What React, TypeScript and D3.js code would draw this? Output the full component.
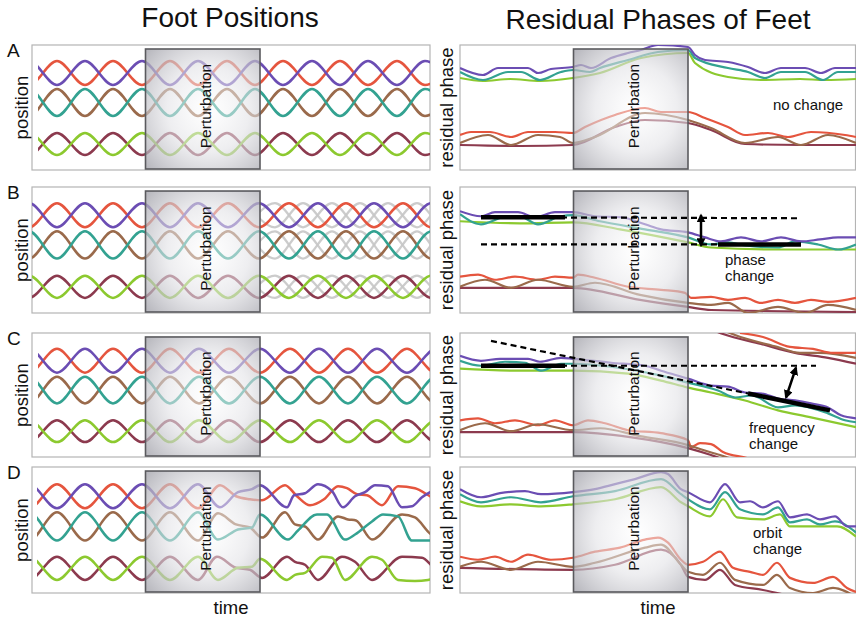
import React from 'react';
import * as d3 from 'd3';

// ---------- labels ----------
const columnTitles = ['Foot Positions', 'Residual Phases of Feet'];
const panelLetters = ['A', 'B', 'C', 'D'];
const leftAxisLabel = 'position';
const rightAxisLabel = 'residual phase';
const xAxisLabel = 'time';
const boxLabel = 'Perturbation';
const annotationLines = [['no change'], ['phase', 'change'], ['frequency', 'change'], ['orbit', 'change']];
const annotationAnchors = [[313, 60], [265, 48], [289, 24], [293, 55]]; // [time, phase]

// ---------- perturbation window (time units) ----------
const perturbationWindow = [113.5, 228];
const perturbationLevels = [1, 121];

// ---------- foot colours ----------
const footNames = ['red', 'purple', 'brown', 'teal', 'maroon', 'green'];
const footHex = ['#e5553e', '#6b4db3', '#9a6a4b', '#33a291', '#8c3a4e', '#8cc92f'];
const legPairs = [['red', 'purple'], ['brown', 'teal'], ['maroon', 'green']];
const pairLevels = [[85, 109], [54, 81], [15, 37]]; // [trough, crest]

// ---------- foot positions: times of alternating crests (even index: first foot of pair crests) ----------
const extremaA = [-31, -3, 25, 53, 81, 110, 138, 166, 195, 223, 251, 280, 308, 336, 365, 393, 421];
const extremaB = [-31, -3, 25, 53, 81, 110, 138, 166, 196, 227, 257, 286, 314, 342, 371, 399, 427];
const extremaC = [-31, -3, 25, 53, 81, 110, 138, 167, 197, 228, 258, 287, 316, 345, 375, 404, 433];
const ghostExtremaB = [215, 243, 271, 300, 328, 356, 385, 413, 441];
const lineStartTimes = [6, 0, 6, 5];

// panel D (orbit change): explicit [time, position]
const dRed = [[-31,108],[-3,84],[25,108],[53,84],[81,108],[110,84],[138,108],[166,84],[188,107],[204,96],[218,93],[230,92],[253,107],[265,96],[278,87],[292,93],[306,106],[315,104],[325,98],[335,97],[350,87],[366,106],[383,104],[398,96],[413,88]];
const dPurple = [[-31,84],[-3,108],[25,84],[53,108],[81,84],[110,108],[138,84],[166,108],[188,85],[206,100],[220,103],[228,107],[255,85],[262,97],[273,99],[286,108],[300,101],[311,85],[323,96],[333,100],[343,107],[356,106],[370,85],[380,86],[390,95],[400,101]];
const dBrown = [[-31,80],[-3,52],[25,80],[53,52],[81,80],[110,52],[138,80],[166,52],[186,79],[204,68],[218,65],[230,55],[253,80],[263,68],[273,66],[286,53],[306,76],[316,73],[324,72],[340,53],[370,78],[383,75],[398,59],[413,52]];
const dTeal = [[-31,52],[-3,80],[25,52],[53,80],[81,52],[110,80],[138,52],[166,80],[186,53],[206,63],[220,65],[228,78],[256,53],[266,62],[285,78],[295,78],[313,53],[323,58],[340,71],[351,78],[366,76],[380,52],[396,52],[413,58]];
const dMaroon = [[-31,36],[-3,13],[25,36],[53,13],[81,36],[110,13],[138,36],[166,13],[185,36],[204,25],[218,23],[230,15],[255,36],[263,31],[273,28],[286,13],[310,36],[323,31],[340,13],[370,36],[390,35],[400,27],[413,15]];
const dGreen = [[-31,13],[-3,36],[25,13],[53,36],[81,13],[110,36],[138,13],[166,36],[186,13],[206,25],[220,26],[228,34],[255,13],[263,18],[273,20],[290,36],[300,35],[313,13],[340,36],[350,33],[366,13],[383,12],[396,13],[413,18]];

// ---------- residual phases: [time, phase] ----------
const phaseAPurple = [[0,102],[23,95],[38,102],[68,102],[78,97],[91,101],[113,103],[121,105],[131,102],[151,112],[168,117],[181,120],[198,125],[228,123],[235,115],[245,110],[268,108],[288,103],[305,97],[321,102],[345,102],[361,97],[375,102],[396,102]];
const phaseATeal = [[0,98],[23,90],[48,98],[61,98],[80,90],[101,98],[113,100],[130,98],[140,102],[168,110],[198,118],[228,120],[235,112],[268,102],[288,98],[305,92],[321,98],[345,98],[363,90],[378,98],[396,98]];
const phaseAGreen = [[0,92],[23,89],[50,91],[80,89],[113,92],[140,97],[181,112],[228,117],[235,107],[268,93],[301,90],[340,91],[365,90],[396,91]];
const phaseARed = [[0,35],[11,38],[30,38],[51,33],[68,38],[95,38],[113,37],[125,43],[155,55],[185,62],[201,58],[228,58],[245,52],[268,43],[285,35],[308,37],[328,33],[351,38],[385,35],[396,33]];
const phaseABrown = [[0,27],[28,35],[51,25],[78,35],[100,33],[113,27],[135,33],[185,57],[228,50],[251,42],[285,27],[318,33],[341,25],[368,35],[396,27]];
const phaseAMaroon = [[0,25],[60,24],[113,25],[155,43],[185,50],[228,47],[251,40],[285,26],[340,25],[396,25]];

const phaseBPurple = [[0,101],[21,96],[35,100],[58,100],[75,95],[95,100],[113,100],[135,96],[161,95],[185,88],[201,83],[228,80],[245,75],[261,71],[281,75],[301,71],[321,75],[341,71],[360,73],[378,75],[396,75]];
const phaseBTeal = [[0,98],[21,88],[45,95],[61,95],[78,88],[101,96],[113,97],[140,91],[185,83],[228,75],[251,68],[268,70],[285,67],[318,65],[335,71],[358,68],[378,63],[396,68]];
const phaseBGreen = [[0,91],[60,89],[113,90],[160,83],[228,70],[251,65],[320,63],[396,63]];
const phaseBRed = [[0,36],[18,38],[35,33],[55,36],[78,33],[95,36],[113,35],[118,38],[135,35],[168,26],[201,23],[225,20],[231,15],[251,16],[268,13],[285,15],[301,10],[318,13],[335,10],[351,13],[368,11],[396,15]];
const phaseBBrown = [[0,26],[25,33],[51,25],[78,33],[113,26],[135,30],[180,18],[228,10],[251,8],[268,10],[288,0],[318,6],[345,0],[368,8],[396,3]];
const phaseBMaroon = [[0,25],[113,25],[180,13],[228,6],[251,3],[396,1]];

const phaseCPurple = [[0,102],[21,97],[40,99],[68,99],[80,96],[101,100],[113,99],[151,95],[185,92],[201,87],[228,79],[251,72],[268,71],[285,65],[302,64],[318,59],[335,57],[351,54],[368,50],[381,42],[396,39]];
const phaseCTeal = [[0,97],[21,92],[45,96],[65,95],[81,87],[101,94],[113,94],[151,91],[201,82],[228,75],[258,67],[275,60],[292,62],[318,50],[335,52],[368,44],[385,37],[396,35]];
const phaseCGreen = [[0,89],[60,87],[113,87],[168,84],[201,77],[228,70],[251,65],[285,57],[318,47],[351,40],[396,30]];
const phaseCRed = [[0,37],[18,39],[35,34],[55,37],[78,32],[95,37],[113,32],[128,37],[145,34],[168,27],[201,24],[228,17],[231,10],[240,14],[251,13],[263,5],[287,-1],[300,-5]];
const phaseCBrown = [[0,27],[25,34],[51,26],[78,33],[113,27],[140,29],[180,21],[228,12],[240,8],[260,2],[280,-5]];
const phaseCMaroon = [[0,25],[113,25],[170,20],[228,9],[251,2],[270,-5]];
const phaseCRedWrapped = [[280,125],[303,121],[330,111],[353,109],[373,105],[396,105]];
const phaseCBrownWrapped = [[265,127],[275,123],[317,111],[340,105],[360,105],[396,100]];
const phaseCMaroonWrapped = [[255,127],[263,124],[301,114],[335,105],[368,100],[396,94]];

const phaseDPurple = [[0,103],[21,95],[40,99],[65,101],[81,98],[113,100],[135,103],[155,108],[175,113],[201,120],[208,118],[221,103],[228,100],[250,90],[265,108],[280,90],[290,91],[303,85],[318,91],[330,75],[347,78],[360,73],[375,76],[387,66],[396,66]];
const phaseDTeal = [[0,98],[21,90],[51,95],[81,90],[113,96],[155,101],[201,113],[221,98],[228,93],[250,83],[265,100],[280,83],[303,78],[318,85],[330,70],[347,73],[360,68],[375,71],[396,60]];
const phaseDGreen = [[0,91],[21,86],[51,88],[81,86],[113,88],[155,93],[201,105],[221,90],[228,86],[250,76],[263,93],[277,75],[303,73],[320,78],[330,66],[360,66],[377,66],[396,56]];
const phaseDRed = [[0,36],[18,33],[35,36],[51,31],[68,38],[91,33],[113,35],[135,41],[160,45],[185,53],[198,55],[208,50],[221,33],[228,28],[243,31],[260,41],[273,25],[290,21],[303,18],[317,30],[330,15],[353,10],[373,16],[387,5],[396,1]];
const phaseDBrown = [[0,26],[21,31],[51,23],[78,31],[113,26],[135,30],[185,45],[201,48],[221,28],[228,21],[243,18],[260,30],[275,13],[303,8],[317,18],[330,5],[353,0],[373,5],[396,-4]];
const phaseDMaroon = [[0,25],[113,23],[155,28],[201,43],[221,28],[228,16],[245,13],[260,23],[275,8],[303,3],[330,-3]];

// ---------- annotation guides (time, phase) ----------
const guideB = { hold: [[21, 95], [105, 95]], dashUpper: [[21, 95], [338, 94]], dashLower: [[21, 68], [258, 68]], newHold: [[258, 68], [341, 68]], arrow: [[241, 97], [241, 67]] };
const guideC = { hold: [[21, 92], [105, 92]], dashUpper: [[21, 92], [356, 92]], dashTrend: [[31, 117], [288, 64]], newHold: [[288, 64], [370, 47]], arrow: [[336, 90], [326, 60]] };

const FONT = '"Liberation Sans", Arial, Helvetica, sans-serif';
const rows = [
  { top: 45, bottom: 170 },
  { top: 187, bottom: 313 },
  { top: 333, bottom: 457 },
  { top: 467, bottom: 593 },
];
const colorOf = (name: string) => footHex[footNames.indexOf(name)];

export default function App() {
  const xLeft = d3.scaleLinear().domain([0, 398]).range([32, 430]);
  const xRight = d3.scaleLinear().domain([0, 396]).range([460, 856]);
  const yOf = (r: number) => d3.scaleLinear().domain([0, 125]).range([rows[r].bottom, rows[r].top]);

  const mkLine = (x: any, y: any) =>
    d3.line<number[]>().x(d => x(d[0])).y(d => y(d[1])).curve(d3.curveMonotoneX);

  const pairCurve = (extrema: number[], pairIdx: number, first: boolean) =>
    extrema.map((t, i) => [t, ((i % 2 === 0) === first) ? pairLevels[pairIdx][1] : pairLevels[pairIdx][0]]);

  const leftExtrema = [extremaA, extremaB, extremaC];
  const dCurves: Record<string, number[][]> = { red: dRed, purple: dPurple, brown: dBrown, teal: dTeal, maroon: dMaroon, green: dGreen };

  const phaseSeries: { name: string; pts: number[][] }[][] = [
    [{ name: 'red', pts: phaseARed }, { name: 'maroon', pts: phaseAMaroon }, { name: 'brown', pts: phaseABrown }, { name: 'green', pts: phaseAGreen }, { name: 'teal', pts: phaseATeal }, { name: 'purple', pts: phaseAPurple }],
    [{ name: 'red', pts: phaseBRed }, { name: 'maroon', pts: phaseBMaroon }, { name: 'brown', pts: phaseBBrown }, { name: 'green', pts: phaseBGreen }, { name: 'teal', pts: phaseBTeal }, { name: 'purple', pts: phaseBPurple }],
    [{ name: 'red', pts: phaseCRed }, { name: 'maroon', pts: phaseCMaroon }, { name: 'brown', pts: phaseCBrown }, { name: 'maroon', pts: phaseCMaroonWrapped }, { name: 'brown', pts: phaseCBrownWrapped }, { name: 'red', pts: phaseCRedWrapped }, { name: 'green', pts: phaseCGreen }, { name: 'teal', pts: phaseCTeal }, { name: 'purple', pts: phaseCPurple }],
    [{ name: 'red', pts: phaseDRed }, { name: 'maroon', pts: phaseDMaroon }, { name: 'brown', pts: phaseDBrown }, { name: 'green', pts: phaseDGreen }, { name: 'teal', pts: phaseDTeal }, { name: 'purple', pts: phaseDPurple }],
  ];

  const box = (x: any, y: any, key: string) => {
    const x0 = x(perturbationWindow[0]), x1 = x(perturbationWindow[1]);
    const y0 = y(perturbationLevels[1]), y1 = y(perturbationLevels[0]);
    return (
      <g key={key}>
        <rect x={x0} y={y0} width={x1 - x0} height={y1 - y0} fill="url(#boxGrad)" stroke="#5a5a5e" strokeWidth={1.6} />
        <text transform={`translate(${(x0 + x1) / 2 + 8},${(y0 + y1) / 2 - 3}) rotate(-90)`} textAnchor="middle"
          fontFamily={FONT} fontSize={15.5} fill="#111">{boxLabel}</text>
      </g>
    );
  };

  const seg = (x: any, y: any, pts: number[][]) => `M${x(pts[0][0])},${y(pts[0][1])}L${x(pts[1][0])},${y(pts[1][1])}`;
  const ghostX0 = xLeft(perturbationWindow[1]);

  return (
    <svg width={856} height={619} style={{ position: 'absolute', left: 0, top: 0, background: '#fff' }}>
      <defs>
        <radialGradient id="boxGrad" cx="0.55" cy="0.5" r="0.72">
          <stop offset="0" stopColor="#ffffff" stopOpacity={0.45} />
          <stop offset="0.5" stopColor="#e2e2e6" stopOpacity={0.6} />
          <stop offset="1" stopColor="#a4a4ac" stopOpacity={0.78} />
        </radialGradient>
        <marker id="arrowHead" viewBox="0 0 10 10" refX="8" refY="5" markerWidth="3.6" markerHeight="3.6" orient="auto-start-reverse">
          <path d="M0,0 L10,5 L0,10 z" fill="#000" />
        </marker>
        {rows.map((r, i) => (
          <clipPath id={`clipL${i}`} key={`cl${i}`}>
            <rect x={xLeft(lineStartTimes[i])} y={r.top} width={430 - xLeft(lineStartTimes[i])} height={r.bottom - r.top} />
          </clipPath>
        ))}
        {rows.map((r, i) => (
          <clipPath id={`clipR${i}`} key={`cr${i}`}>
            <rect x={460} y={r.top} width={396} height={r.bottom - r.top} />
          </clipPath>
        ))}
        <clipPath id="ghostClip">
          <rect x={ghostX0} y={rows[1].top} width={430 - ghostX0} height={rows[1].bottom - rows[1].top} />
        </clipPath>
      </defs>

      {/* titles */}
      <text x={230} y={27} textAnchor="middle" fontFamily={FONT} fontSize={28} fill="#111">{columnTitles[0]}</text>
      <text x={658} y={29} textAnchor="middle" fontFamily={FONT} fontSize={28} fill="#111">{columnTitles[1]}</text>

      {rows.map((r, ri) => {
        const y = yOf(ri);
        const line = mkLine(xLeft, y);
        const rline = mkLine(xRight, y);
        const midY = (r.top + r.bottom) / 2;
        return (
          <g key={`row${ri}`}>
            <text x={7} y={r.top + 12} fontFamily={FONT} fontSize={19} fill="#111">{panelLetters[ri]}</text>
            <text transform={`translate(28,${midY}) rotate(-90)`} textAnchor="middle" fontFamily={FONT} fontSize={18.5} fill="#111">{leftAxisLabel}</text>
            <text transform={`translate(453,${midY}) rotate(-90)`} textAnchor="middle" fontFamily={FONT} fontSize={18.5} fill="#111">{rightAxisLabel}</text>

            {/* left frame */}
            <rect x={32} y={r.top} width={398} height={r.bottom - r.top} fill="#fff" stroke="#b4b4b4" strokeWidth={1.2} />
            {ri === 1 && (
              <g clipPath="url(#ghostClip)">
                {legPairs.map((pair, pi) => [true, false].map(first => (
                  <path key={`gh${pi}${first}`} d={line(pairCurve(ghostExtremaB, pi, first) as any) || ''}
                    fill="none" stroke="#c6c6c6" strokeWidth={2.2} opacity={0.9} />
                )))}
              </g>
            )}
            <g clipPath={`url(#clipL${ri})`}>
              {ri < 3 && legPairs.map((pair, pi) => (
                <g key={`p${pi}`}>
                  {pair.map((name, k) => (
                    <path key={name} d={line(pairCurve(leftExtrema[ri], pi, k === 0) as any) || ''}
                      fill="none" stroke={colorOf(name)} strokeWidth={2.5} strokeLinejoin="round" />
                  ))}
                </g>
              ))}
              {ri === 3 && legPairs.map((pair, pi) => (
                <g key={`d${pi}`}>
                  {pair.map(name => (
                    <path key={name} d={line(dCurves[name] as any) || ''}
                      fill="none" stroke={colorOf(name)} strokeWidth={2.5} strokeLinejoin="round" />
                  ))}
                </g>
              ))}
            </g>
            {box(xLeft, y, `lb${ri}`)}

            {/* right frame */}
            <rect x={460} y={r.top} width={395.5} height={r.bottom - r.top} fill="#fff" stroke="#b4b4b4" strokeWidth={1.2} />
            <g clipPath={`url(#clipR${ri})`}>
              {phaseSeries[ri].map((s, si) => (
                <path key={si} d={rline(s.pts as any) || ''} fill="none" stroke={colorOf(s.name)} strokeWidth={2.2} strokeLinejoin="round" />
              ))}
            </g>
            {box(xRight, y, `rb${ri}`)}

            {annotationLines[ri].map((t, li) => (
              <text key={li} x={xRight(annotationAnchors[ri][0])} y={y(annotationAnchors[ri][1]) + li * 16}
                fontFamily={FONT} fontSize={15} fill="#111">{t}</text>
            ))}

            {ri === 1 && (
              <g>
                <path d={seg(xRight, y, guideB.dashUpper)} stroke="#000" strokeWidth={2.2} strokeDasharray="6,4" fill="none" />
                <path d={seg(xRight, y, guideB.dashLower)} stroke="#000" strokeWidth={2.2} strokeDasharray="6,4" fill="none" />
                <path d={seg(xRight, y, guideB.hold)} stroke="#000" strokeWidth={4.5} fill="none" />
                <path d={seg(xRight, y, guideB.newHold)} stroke="#000" strokeWidth={4.5} fill="none" />
                <path d={seg(xRight, y, guideB.arrow)} stroke="#000" strokeWidth={2.5} fill="none"
                  markerStart="url(#arrowHead)" markerEnd="url(#arrowHead)" />
              </g>
            )}
            {ri === 2 && (
              <g>
                <path d={seg(xRight, y, guideC.dashUpper)} stroke="#000" strokeWidth={2.2} strokeDasharray="6,4" fill="none" />
                <path d={seg(xRight, y, guideC.dashTrend)} stroke="#000" strokeWidth={2.2} strokeDasharray="6,4" fill="none" />
                <path d={seg(xRight, y, guideC.hold)} stroke="#000" strokeWidth={4.5} fill="none" />
                <path d={seg(xRight, y, guideC.newHold)} stroke="#000" strokeWidth={4.5} fill="none" />
                <path d={seg(xRight, y, guideC.arrow)} stroke="#000" strokeWidth={2.5} fill="none"
                  markerStart="url(#arrowHead)" markerEnd="url(#arrowHead)" />
              </g>
            )}
          </g>
        );
      })}

      <text x={231} y={614} textAnchor="middle" fontFamily={FONT} fontSize={18.5} fill="#111">{xAxisLabel}</text>
      <text x={658} y={614} textAnchor="middle" fontFamily={FONT} fontSize={18.5} fill="#111">{xAxisLabel}</text>
    </svg>
  );
}
